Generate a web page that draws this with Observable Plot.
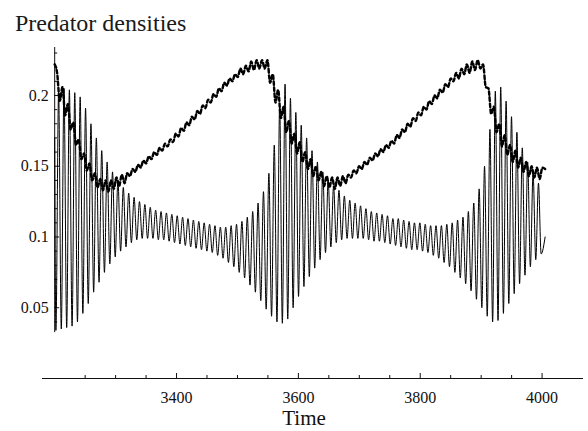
<!DOCTYPE html>
<html><head><meta charset="utf-8">
<script src="https://cdn.jsdelivr.net/npm/d3@7"></script>
<script src="https://cdn.jsdelivr.net/npm/@observablehq/plot@0.6"></script>
<style>
html,body{margin:0;padding:0;background:#fff;}
#wrap{position:relative;width:588px;height:431px;overflow:hidden;font-family:"Liberation Serif","Times New Roman",serif;}
#title{position:absolute;left:15px;top:9px;font-size:24px;line-height:28px;color:#1a1a1a;white-space:nowrap;}
#chart{position:absolute;left:0;top:0;}
</style></head><body>
<div id="wrap"><div id="chart"></div><div id="title">Predator densities</div></div>
<script>
// ---- data ----
const xMajorTicks = [3400, 3600, 3800, 4000];
const xMinorTicks = [3250, 3300, 3350, 3450, 3500, 3550, 3650, 3700, 3750, 3850, 3900, 3950];
const yMajorTicks = [0.05, 0.1, 0.15, 0.2];
const yTickLabels = ["0.05", "0.1", "0.15", "0.2"];
const yMinorTicks = [0.04, 0.06, 0.07, 0.08, 0.09, 0.11, 0.12, 0.13, 0.14, 0.16, 0.17, 0.18, 0.19, 0.21, 0.22, 0.23];
const yAxisExtent = [0.0324, 0.2339];
const xLabel = "Time";

const tStart = 3200, tEnd = 4005;
const fastPeriod = 8.85;          // period of the fast oscillation (time units)
const solidFirstTroughT = 3202;   // time of first solid-line trough
const dashFirstPeakT = 3204;      // time of first dashed-line peak

// solid line: successive troughs and peaks, one per fast cycle
const solidStart = 0.17, solidEnd = 0.100;
const solidTroughs = [0.034,0.035,0.036,0.037,0.040,0.046,0.053,0.061,0.068,0.075,
 0.081,0.086,0.090,0.093,0.096,0.098,0.099,0.099,0.099,0.098,
 0.098,0.097,0.096,0.095,0.094,0.093,0.092,0.091,0.090,0.089,
 0.087,0.085,0.082,0.079,0.075,0.071,0.066,0.061,0.055,0.049,
 0.044,0.040,0.039,0.042,0.050,0.058,0.065,0.072,0.078,0.084,
 0.089,0.093,0.096,0.098,0.099,0.099,0.099,0.099,0.098,0.097,
 0.097,0.096,0.095,0.094,0.093,0.092,0.091,0.091,0.090,0.089,
 0.087,0.085,0.082,0.079,0.075,0.071,0.067,0.062,0.056,0.050,
 0.044,0.040,0.041,0.046,0.053,0.060,0.067,0.073,0.079,0.084,
 0.088];
const solidPeaks = [0.202,0.205,0.204,0.202,0.199,0.191,0.180,0.170,0.161,0.153,
 0.146,0.140,0.135,0.131,0.128,0.125,0.123,0.121,0.119,0.118,
 0.117,0.116,0.115,0.114,0.113,0.112,0.111,0.110,0.109,0.108,
 0.107,0.107,0.108,0.109,0.111,0.114,0.118,0.124,0.132,0.145,
 0.165,0.193,0.208,0.198,0.188,0.179,0.170,0.161,0.153,0.146,
 0.140,0.136,0.133,0.129,0.126,0.124,0.122,0.120,0.118,0.117,
 0.116,0.115,0.113,0.113,0.112,0.111,0.110,0.110,0.109,0.108,
 0.108,0.108,0.109,0.110,0.112,0.114,0.118,0.124,0.134,0.150,
 0.176,0.203,0.206,0.196,0.185,0.174,0.163,0.153,0.145,0.138];

// dashed line: successive peaks and troughs, one per fast cycle
const dashStart = 0.222, dashEnd = 0.148;
const dashPeaks = [0.216,0.206,0.194,0.181,0.169,0.159,0.152,0.145,0.141,0.140,
 0.140,0.142,0.144,0.145,0.148,0.151,0.154,0.157,0.160,0.163,
 0.166,0.169,0.173,0.177,0.181,0.185,0.189,0.193,0.197,0.201,
 0.205,0.209,0.212,0.215,0.219,0.221,0.224,0.225,0.225,0.225,
 0.215,0.204,0.192,0.182,0.173,0.167,0.160,0.155,0.150,0.146,
 0.143,0.142,0.142,0.143,0.144,0.147,0.150,0.153,0.156,0.159,
 0.162,0.165,0.168,0.172,0.176,0.180,0.184,0.188,0.192,0.196,
 0.200,0.204,0.208,0.212,0.216,0.219,0.222,0.224,0.225,0.222,
 0.205,0.192,0.180,0.172,0.165,0.161,0.156,0.153,0.150,0.149,
 0.149];
const dashTroughs = [0.196,0.186,0.176,0.165,0.155,0.147,0.140,0.135,0.133,0.132,
 0.134,0.136,0.138,0.143,0.146,0.149,0.152,0.155,0.158,0.161,
 0.164,0.167,0.171,0.175,0.179,0.183,0.187,0.191,0.195,0.199,
 0.203,0.207,0.210,0.213,0.215,0.217,0.218,0.219,0.219,0.209,
 0.195,0.184,0.174,0.166,0.159,0.153,0.148,0.143,0.140,0.136,
 0.135,0.134,0.136,0.138,0.142,0.145,0.148,0.151,0.154,0.157,
 0.160,0.163,0.166,0.170,0.174,0.178,0.182,0.186,0.190,0.194,
 0.198,0.202,0.206,0.210,0.212,0.215,0.216,0.218,0.219,0.206,
 0.187,0.174,0.164,0.158,0.153,0.149,0.146,0.143,0.142,0.141];

// ---- assemble the two series ----
function buildSeries(startV, endV, first, second, t0) {
  const pts = [{t: tStart, v: startV}];
  for (let i = 0; i < first.length; i++) {
    pts.push({t: t0 + i * fastPeriod, v: first[i]});
    if (i < second.length) pts.push({t: t0 + i * fastPeriod + fastPeriod / 2, v: second[i]});
  }
  const kept = pts.filter(p => p.t < tEnd);
  kept.push({t: tEnd, v: endV});
  return kept;
}
const solid = buildSeries(solidStart, solidEnd, solidTroughs, solidPeaks, solidFirstTroughT);
const dashed = buildSeries(dashStart, dashEnd, dashPeaks, dashTroughs, dashFirstPeakT);

const serif = "Liberation Serif, Times New Roman, serif";
const ink = "#111";

const chart = Plot.plot({
  width: 588,
  height: 431,
  marginLeft: 42,
  marginRight: 5,
  marginTop: 47,
  marginBottom: 53,
  x: {domain: [3180, 4068], axis: null},
  y: {domain: [0, 0.2339], axis: null},
  style: {fontFamily: serif, background: "white", color: ink},
  marks: [
    Plot.ruleY([0], {stroke: ink, strokeWidth: 1}),
    Plot.ruleX([tStart], {y1: yAxisExtent[0], y2: yAxisExtent[1], stroke: ink, strokeWidth: 1}),
    Plot.ruleX(xMajorTicks, {x: d => d, y1: 0, y2: 0, insetTop: -5, stroke: ink}),
    Plot.ruleX(xMinorTicks, {x: d => d, y1: 0, y2: 0, insetTop: -3, stroke: ink}),
    Plot.ruleY(yMajorTicks, {y: d => d, x1: tStart, x2: tStart, insetRight: -5, stroke: ink}),
    Plot.ruleY(yMinorTicks, {y: d => d, x1: tStart, x2: tStart, insetRight: -3, stroke: ink}),
    Plot.text(xMajorTicks, {x: d => d, y: 0, dy: 19, text: d => String(d), fontSize: 16, fontFamily: serif, fill: ink}),
    Plot.text(yMajorTicks, {x: tStart, y: d => d, dx: -6, text: (d, i) => yTickLabels[i], textAnchor: "end", fontSize: 16, fontFamily: serif, fill: ink}),
    Plot.text([xLabel], {frameAnchor: "bottom", dy: 46, dx: -9, text: d => d, fontSize: 21, fontFamily: serif, fill: ink}),
    Plot.line(solid, {x: "t", y: "v", stroke: "#000", strokeWidth: 1, curve: "monotone-x"}),
    Plot.line(dashed, {x: "t", y: "v", stroke: "#000", strokeWidth: 2.4, strokeDasharray: "3.5,2.5", curve: "monotone-x"})
  ]
});
document.getElementById("chart").appendChild(chart);
</script></body></html>
